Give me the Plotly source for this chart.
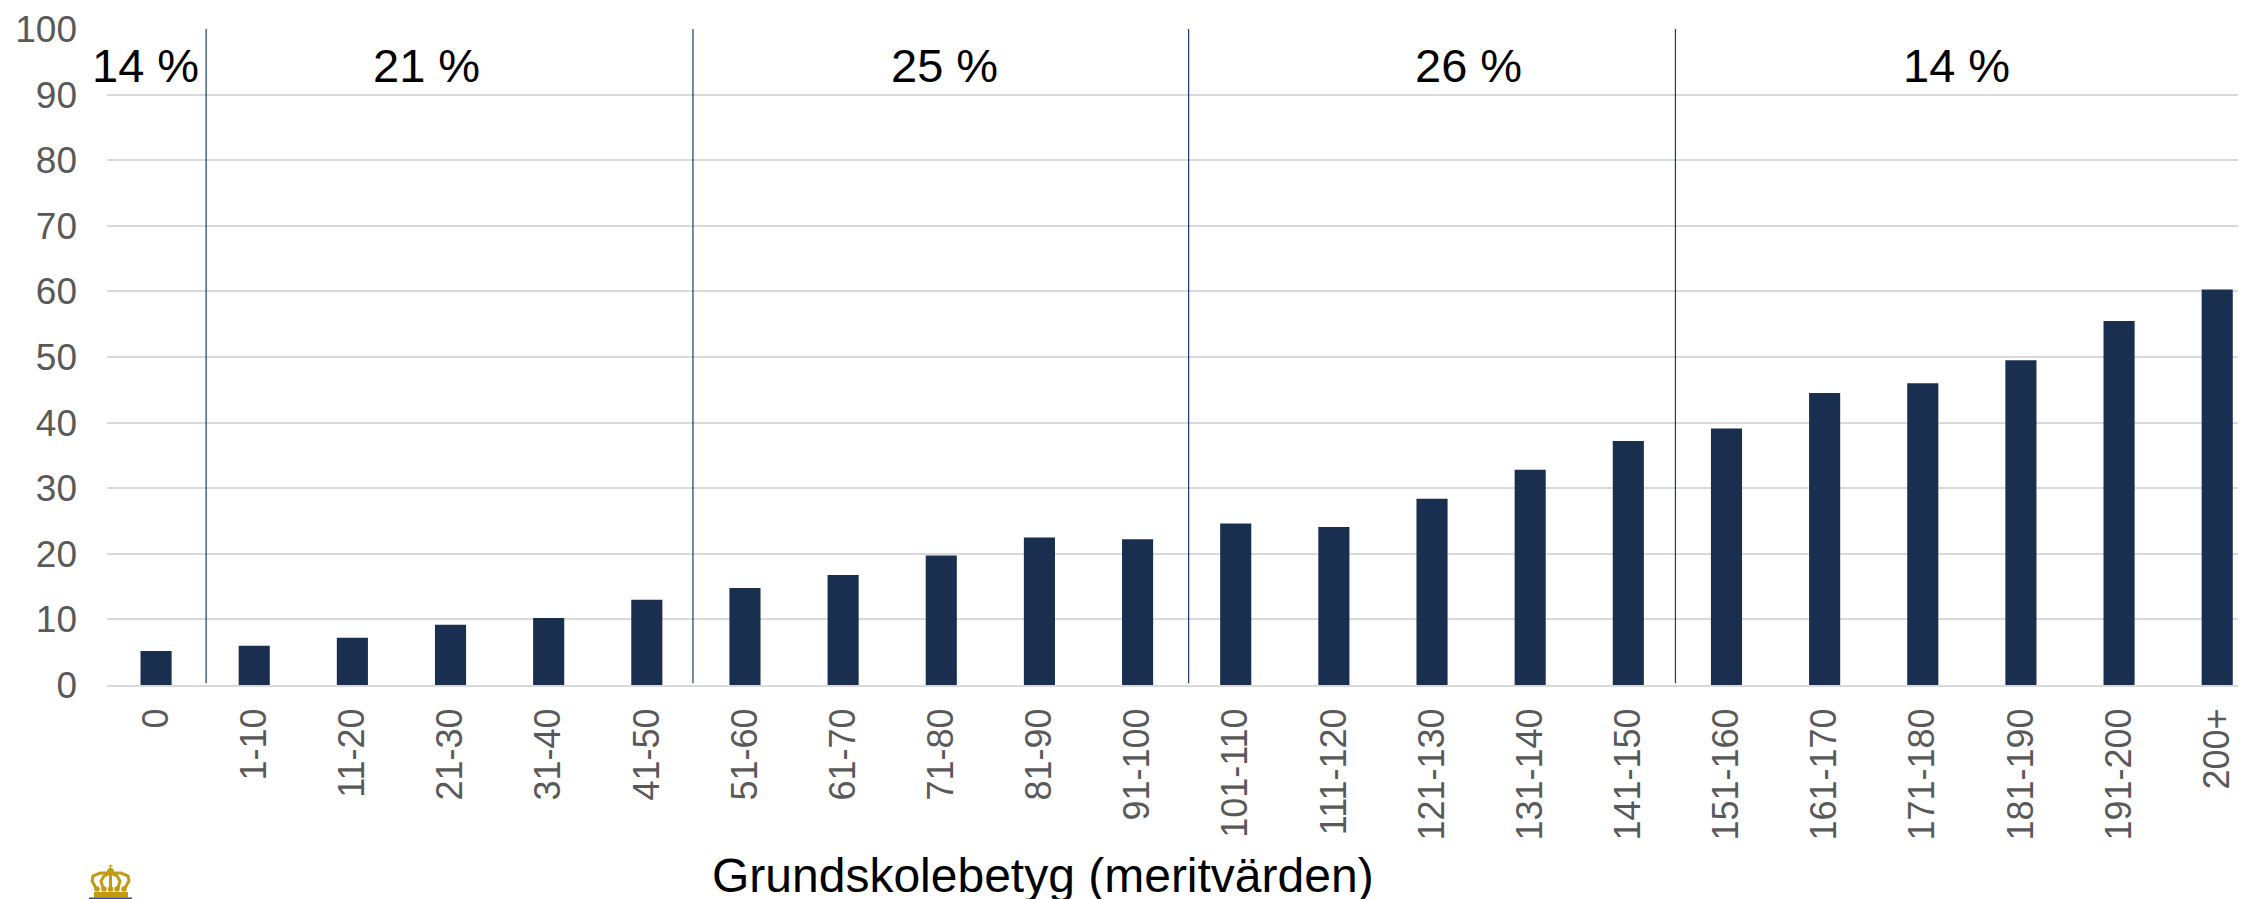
import plotly.graph_objects as go

categories = ["0", "1-10", "11-20", "21-30", "31-40", "41-50", "51-60", "61-70", "71-80", "81-90",
              "91-100", "101-110", "111-120", "121-130", "131-140", "141-150", "151-160", "161-170",
              "171-180", "181-190", "191-200", "200+"]
values = [5.2, 6.0, 7.2, 9.2, 10.2, 13.0, 14.8, 16.75, 19.75, 22.5, 22.2, 24.6, 24.1, 28.4, 32.8, 37.2,
          39.1, 44.5, 46.0, 49.5, 55.5, 60.3]
dividers = [0.51, 5.47, 10.52, 15.48]
group_labels = ["14 %", "21 %", "25 %", "26 %", "14 %"]
group_centers = [-0.105, 2.76, 8.03, 13.37, 18.34]
group_label_y = 94.4
y_ticks = list(range(0, 101, 10))
x_title = "Grundskolebetyg (meritvärden)"

# The page body has an 8 px margin, so the figure starts at (8, 8) in the window.
OFF = 8
W, H = 2246 - OFF, 899 - OFF
L, T, B = 107 - OFF, 29 - OFF, 214
PW, PH = W - L, H - T - B
FONT = "Liberation Sans, Arial, sans-serif"


def px(x):
    return (x - L - OFF) / PW


def py(y):
    return (H + OFF - B - y) / PH


def poly(points, close=False):
    s = "M " + " L ".join(f"{px(a):.5f},{py(b):.5f}" for a, b in points)
    return s + (" Z" if close else "")


GOLD = "#C49A12"
arches = [
    [(96, 888), (92, 881), (93, 876), (100, 873), (110.5, 873)],
    [(125, 888), (129, 881), (128, 876), (121, 873), (110.5, 873)],
    [(103, 888), (101, 881), (104, 876), (110.5, 873)],
    [(118, 888), (120, 881), (117, 876), (110.5, 873)],
    [(110.5, 888), (110.5, 873)],
]
beads = [(97, 889), (104, 889), (110.5, 889), (117, 889), (124, 889), (110.5, 871.5)]
bead_r = [2.8, 2.8, 2.8, 2.8, 2.8, 3.5]

shapes = [
    dict(type="line", xref="x", yref="y", x0=d, x1=d, y0=0.25, y1=100,
         line=dict(color="#1F3A66", width=1.2), layer="above")
    for d in dividers
]
for pts in arches:
    shapes.append(dict(type="path", xref="paper", yref="paper", path=poly(pts), line=dict(color=GOLD, width=3)))
for (cx, cy), r in zip(beads, bead_r):
    shapes.append(dict(type="circle", xref="paper", yref="paper", x0=px(cx - r), x1=px(cx + r),
                       y0=py(cy + r), y1=py(cy - r), fillcolor=GOLD, line=dict(width=0)))
shapes.append(dict(type="path", xref="paper", yref="paper",
                   path=poly([(94, 892), (128, 892), (128, 897.5), (94, 897.5)], True),
                   fillcolor=GOLD, line=dict(width=0)))
shapes.append(dict(type="path", xref="paper", yref="paper", path=poly([(110.5, 864.5), (110.5, 869)]),
                   line=dict(color=GOLD, width=1)))
shapes.append(dict(type="path", xref="paper", yref="paper", path=poly([(108.5, 866), (112.5, 866)]),
                   line=dict(color=GOLD, width=1)))
shapes.append(dict(type="line", xref="paper", yref="paper", x0=px(89), x1=px(132), y0=py(898.2), y1=py(898.2),
                   line=dict(color="#2B4FA0", width=1.5)))

notes = [
    dict(x=c, y=group_label_y, xref="x", yref="y", text=t, showarrow=False,
         font=dict(size=47, color="#000000", family=FONT), xanchor="center", yanchor="middle")
    for c, t in zip(group_centers, group_labels)
]
notes.append(dict(x=px(1043), y=py(875), xref="paper", yref="paper", text=x_title, showarrow=False,
                  font=dict(size=48, color="#000000", family=FONT), xanchor="center", yanchor="middle"))

fig = go.Figure(go.Bar(x=categories, y=values, width=0.317, marker=dict(color="#1A2F50", line=dict(width=0)),
                       showlegend=False))
fig.update_layout(
    width=W, height=H, autosize=False,
    margin=dict(l=L, r=0, t=T, b=B),
    paper_bgcolor="white", plot_bgcolor="white",
    font=dict(family=FONT),
    shapes=shapes,
    annotations=notes,
)
fig.update_xaxes(
    type="category", categoryorder="array", categoryarray=categories,
    range=[-0.5, PW / 98.15 - 0.5],
    tickangle=-90, tickfont=dict(size=36, color="#595959", family=FONT),
    ticks="", showgrid=False, showline=True, linecolor="#D9D9D9", linewidth=2,
    ticklabelstandoff=7,
    automargin=False,
)
fig.update_yaxes(
    range=[0, 100], tickvals=y_ticks, tickfont=dict(size=37, color="#595959", family=FONT),
    showgrid=True, gridcolor="#D9D9D9", gridwidth=2, zeroline=False, ticks="",
    ticklabelstandoff=29, showline=False, automargin=False,
)
fig.write_html("out.html")
